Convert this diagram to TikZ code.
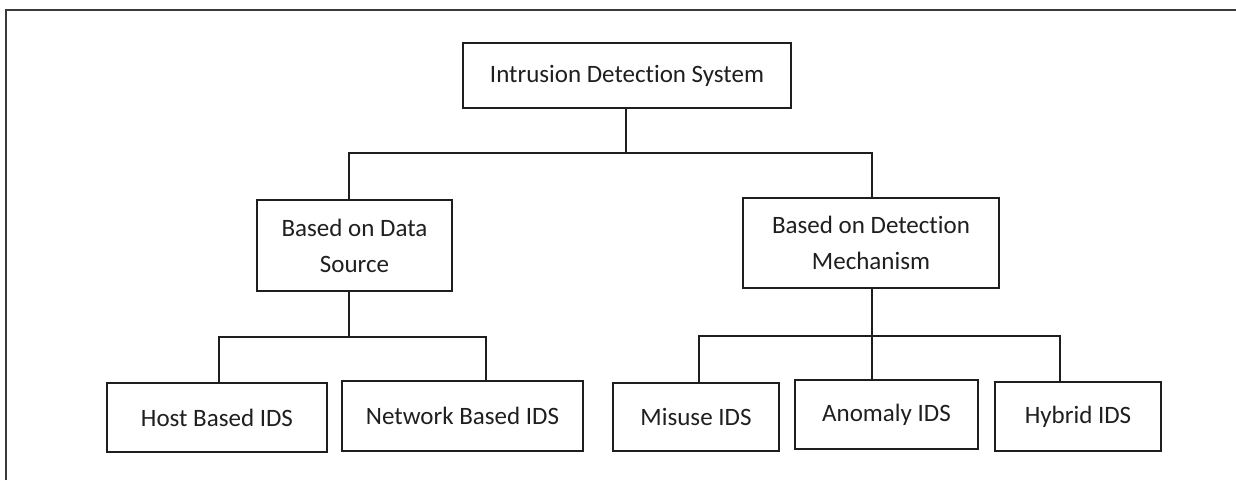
\documentclass[tikz,border=0pt]{standalone}
\usepackage{fontspec}
\setmainfont{Carlito}[Ligatures={NoCommon,NoRare,NoDiscretionary}]
\definecolor{ink}{HTML}{1E1E1E}
\definecolor{txt}{HTML}{1F1F1F}
\definecolor{frame}{HTML}{3A3A3A}
\begin{document}
\begin{tikzpicture}[x=1pt,y=-1pt,
  box/.style={draw=ink, line width=1.8pt, fill=white, inner sep=0pt,
    font=\fontsize{25}{36}\selectfont, text=txt, align=center},
  link/.style={draw=ink, line width=1.8pt}]
\useasboundingbox (0,0) rectangle (1236,480);

% page frame (top and left edges)
\draw[line width=1.6pt, draw=frame] (6,480) -- (6,10) -- (1236,10);

% boxes
\node[box, minimum width=328pt, minimum height=65pt] (root)   at (627,75.5)   {Intrusion Detection System};
\node[box, minimum width=195pt, minimum height=91pt] (data)   at (354.5,245.5) {Based on Data\\Source};
\node[box, minimum width=256pt, minimum height=90pt] (mech)   at (871,243)    {Based on Detection\\Mechanism};
\node[box, minimum width=220pt, minimum height=69pt] (host)   at (217,417.5)  {Host Based IDS};
\node[box, minimum width=241pt, minimum height=70pt] (net)    at (462.5,416)  {Network Based IDS};
\node[box, minimum width=166pt, minimum height=68pt] (misuse) at (696,417)    {Misuse IDS};
\node[box, minimum width=183pt, minimum height=69pt] (anom)   at (886.5,414.5) {Anomaly IDS};
\node[box, minimum width=166pt, minimum height=69pt] (hybrid) at (1078,416.5)  {Hybrid IDS};

% junction points of the tree
\coordinate (j0) at (626,153);
\coordinate (jl) at (349,153);
\coordinate (jr) at (872,153);
\coordinate (k0) at (349,337);
\coordinate (kl) at (219,337);
\coordinate (kr) at (486,337);
\coordinate (m0) at (872,336);
\coordinate (ml) at (699,336);
\coordinate (mr) at (1060,336);

% top level
\draw[link] (root.south -| j0) -- (j0);
\draw[link] (data.north -| jl) -- (jl) -- (jr) -- (mech.north -| jr);

% data source branch
\draw[link] (data.south -| k0) -- (k0);
\draw[link] (host.north -| kl) -- (kl) -- (kr) -- (net.north -| kr);

% detection mechanism branch
\draw[link] (mech.south -| m0) -- (anom.north -| m0);
\draw[link] (misuse.north -| ml) -- (ml) -- (mr) -- (hybrid.north -| mr);
\end{tikzpicture}
\end{document}
